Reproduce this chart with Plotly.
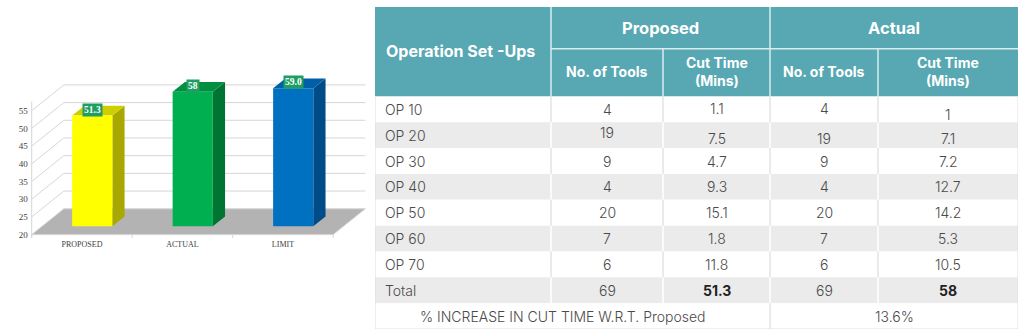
import plotly.graph_objects as go

# ---------------- data ----------------
categories = ["PROPOSED", "ACTUAL", "LIMIT"]
bar_values = [51.3, 58, 59.0]
bar_labels = ["51.3", "58", "59.0"]
y_ticks = [20, 25, 30, 35, 40, 45, 50, 55]

ops = ["OP 10", "OP 20", "OP 30", "OP 40", "OP 50", "OP 60", "OP 70", "Total"]
prop_tools = ["4", "19", "9", "4", "20", "7", "6", "69"]
prop_cut = ["1.1", "7.5", "4.7", "9.3", "15.1", "1.8", "11.8", "51.3"]
act_tools = ["4", "19", "9", "4", "20", "7", "6", "69"]
act_cut = ["1", "7.1", "7.2", "12.7", "14.2", "5.3", "10.5", "58"]
pct_label = "% INCREASE IN CUT TIME W.R.T. Proposed"
pct_value = "13.6%"
header_main = "Operation Set -Ups"
header_groups = ["Proposed", "Actual"]
header_sub = ["No. of Tools", "Cut Time<br>(Mins)", "No. of Tools", "Cut Time<br>(Mins)"]

# ---------------- styles ----------------
front_cols = ["#FFFF00", "#00B050", "#0070C0"]
top_cols = ["#CFCF00", "#008F40", "#005FA8"]
side_cols = ["#A8A800", "#007533", "#004C88"]
GRID = "#d6d6d6"
FLOOR = "#b3b3b3"
SERIF = "Liberation Serif"
DX, DY = 0.32, 7.3          # full depth offset in axis units
F0, F1 = 0.32, 0.70         # bar depth range (fraction of full depth)
BAR_W = 0.4
Y0 = 20

fig = go.Figure()

def poly(xs, ys, color, line_color=None, width=0):
    fig.add_trace(go.Scatter(
        x=xs + [xs[0]], y=ys + [ys[0]], mode="lines", fill="toself",
        fillcolor=color, line=dict(color=line_color or color, width=width),
        hoverinfo="skip", showlegend=False))

def seg(xs, ys, color=GRID, width=1):
    fig.add_trace(go.Scatter(x=xs, y=ys, mode="lines",
                             line=dict(color=color, width=width),
                             hoverinfo="skip", showlegend=False))

n = len(categories)
# floor
poly([0, n, n + DX, DX], [Y0, Y0, Y0 + DY, Y0 + DY], FLOOR, GRID, 1)
# walls gridlines
for t in y_ticks[1:]:
    seg([0, DX, n + DX], [t, t + DY, t + DY])
# front axes
seg([0, 0], [Y0 - 1, y_ticks[-1] + 2.6])
seg([0, n], [Y0, Y0])
for k in range(n + 1):
    seg([k, k], [Y0, Y0 - 1])

# bars
for i, v in enumerate(bar_values):
    x0, x1 = i + 0.5 - BAR_W / 2, i + 0.5 + BAR_W / 2
    b0, b1 = Y0 + DY * F0, Y0 + DY * F1
    t0, t1 = v + DY * F0, v + DY * F1
    # side
    poly([x1 + DX * F0, x1 + DX * F1, x1 + DX * F1, x1 + DX * F0],
         [b0, b1, t1, t0], side_cols[i])
    # top
    poly([x0 + DX * F0, x1 + DX * F0, x1 + DX * F1, x0 + DX * F1],
         [t0, t0, t1, t1], top_cols[i])
    # front
    poly([x0 + DX * F0, x1 + DX * F0, x1 + DX * F0, x0 + DX * F0],
         [b0, b0, t0, t0], front_cols[i])
    fm = (F0 + F1) / 2
    fig.add_annotation(x=i + 0.5 + DX * fm, y=v + DY * fm, xref="x", yref="y",
                       text=f"<b>{bar_labels[i]}</b>", showarrow=False,
                       xshift=-6, yshift=1,
                       font=dict(family=SERIF, size=9.5, color="white"),
                       bgcolor="#1E9E62", borderpad=1)

# ---------------- table ----------------
COL_W = [176, 112, 107, 108, 140]
HEAD_H = [42, 48]
ROW_H = 26
TEAL = "#57A8B3"
GRAY_ROW = "#EBEBEB"
TXT = "#4a4a4a"
FONT = "Inter"

cx = [0]
for w in COL_W:
    cx.append(cx[-1] + w)
head_bottom = sum(HEAD_H)
n_rows = len(ops) + 1
ry = [head_bottom + k * ROW_H for k in range(n_rows + 1)]
total_w, total_h = cx[-1], ry[-1]

def rect(xa, xb, ya, yb, fill, line_color=None, lw=0):
    fig.add_shape(type="rect", xref="x2", yref="y2", x0=xa, x1=xb, y0=ya, y1=yb,
                  fillcolor=fill, line=dict(color=line_color or fill, width=lw),
                  layer="above")

def line(xa, xb, ya, yb, color, lw=1.5):
    fig.add_shape(type="line", xref="x2", yref="y2", x0=xa, x1=xb, y0=ya, y1=yb,
                  line=dict(color=color, width=lw), layer="above")

def text(x, y, s, size=13, color=TXT, bold=False, anchor="center", yshift=0, weight=None):
    f = dict(family=FONT, size=size, color=color)
    if weight is not None and not bold:
        f["weight"] = weight
    fig.add_annotation(x=x, y=y, xref="x2", yref="y2", text=f"<b>{s}</b>" if bold else s,
                       showarrow=False, xanchor=anchor, yanchor="middle", yshift=yshift,
                       font=f, align="center")

# header background
rect(0, total_w, 0, head_bottom, TEAL)
HL = "#d9ecef"
line(cx[1], cx[1], 0, head_bottom, HL)
line(cx[3], cx[3], 0, head_bottom, HL)
line(cx[2], cx[2], HEAD_H[0], head_bottom, HL)
line(cx[4], cx[4], HEAD_H[0], head_bottom, HL)
line(cx[1], total_w, HEAD_H[0], HEAD_H[0], HL)
text(9, head_bottom / 2 - 1, header_main, size=16, color="white", bold=True, anchor="left")
text((cx[1] + cx[3]) / 2, HEAD_H[0] / 2, header_groups[0], size=16.5, color="white", bold=True)
text((cx[3] + cx[5]) / 2, HEAD_H[0] / 2, header_groups[1], size=16.5, color="white", bold=True)
for j, s in enumerate(header_sub):
    text((cx[j + 1] + cx[j + 2]) / 2, HEAD_H[0] + HEAD_H[1] / 2 - 1, s, size=14,
         color="white", bold=True)

# body rows
columns = [ops, prop_tools, prop_cut, act_tools, act_cut]
shifts = {(0, 2): 1, (0, 3): 1, (0, 4): -5, (1, 1): 3, (1, 2): -3, (1, 3): -3, (1, 4): -3}
for r in range(n_rows):
    fill = GRAY_ROW if r % 2 == 1 else "white"
    rect(0, total_w, ry[r], ry[r + 1], fill)
    div = "white" if r % 2 == 1 else "#e3e3e3"
    if r < len(ops):
        for c in range(1, 5):
            line(cx[c], cx[c], ry[r], ry[r + 1], div)
    else:
        line(cx[3], cx[3], ry[r], ry[r + 1], div)

for r in range(len(ops)):
    yc = (ry[r] + ry[r + 1]) / 2
    is_total = r == len(ops) - 1
    for c, col in enumerate(columns):
        bold = is_total and c in (2, 4)
        if c == 0:
            text(8, yc, col[r], size=14, anchor="left", weight=300)
        else:
            text((cx[c] + cx[c + 1]) / 2, yc, col[r], size=14,
                 color="#222" if bold else TXT, bold=bold, yshift=shifts.get((r, c), 0),
                 weight=300)
yc = (ry[-2] + ry[-1]) / 2
text((cx[0] + cx[3]) / 2 - 10, yc, pct_label, size=14, weight=300)
text((cx[3] + cx[5]) / 2, yc, pct_value, size=14, weight=300)
# outer border of body
line(0, 0, head_bottom, total_h, "#dedede", 1)
line(total_w, total_w, head_bottom, total_h, "#dedede", 1)
line(0, total_w, total_h, total_h, "#dedede", 1)

fig.add_trace(go.Scatter(x=[0], y=[0], xaxis="x2", yaxis="y2", mode="markers",
                         marker=dict(opacity=0), hoverinfo="skip", showlegend=False))

W, H = 1024, 334
fig.update_layout(
    width=W, height=H, margin=dict(l=0, r=0, t=0, b=0),
    paper_bgcolor="white", plot_bgcolor="rgba(0,0,0,0)", showlegend=False,
    xaxis=dict(domain=[28.7 / W, 378.4 / W], range=[-0.03, 3.45],
               tickvals=[i + 0.5 for i in range(n)], ticktext=categories,
               showgrid=False, zeroline=False, showline=False, ticks="",
               tickfont=dict(family=SERIF, size=8, color="#404040"), fixedrange=True),
    yaxis=dict(domain=[1 - 239.56 / H, 1 - 66.9 / H], range=[19, 67.5],
               tickvals=y_ticks, showgrid=False, zeroline=False, showline=False,
               ticks="", tickfont=dict(family=SERIF, size=9, color="#404040"),
               fixedrange=True),
    xaxis2=dict(domain=[375 / W, 1018 / W], range=[0, total_w], visible=False,
                anchor="y2", fixedrange=True),
    yaxis2=dict(domain=[1 - 331 / H, 1 - 7 / H], range=[total_h, 0], visible=False,
                anchor="x2", fixedrange=True),
)

fig.write_html("out.html")
